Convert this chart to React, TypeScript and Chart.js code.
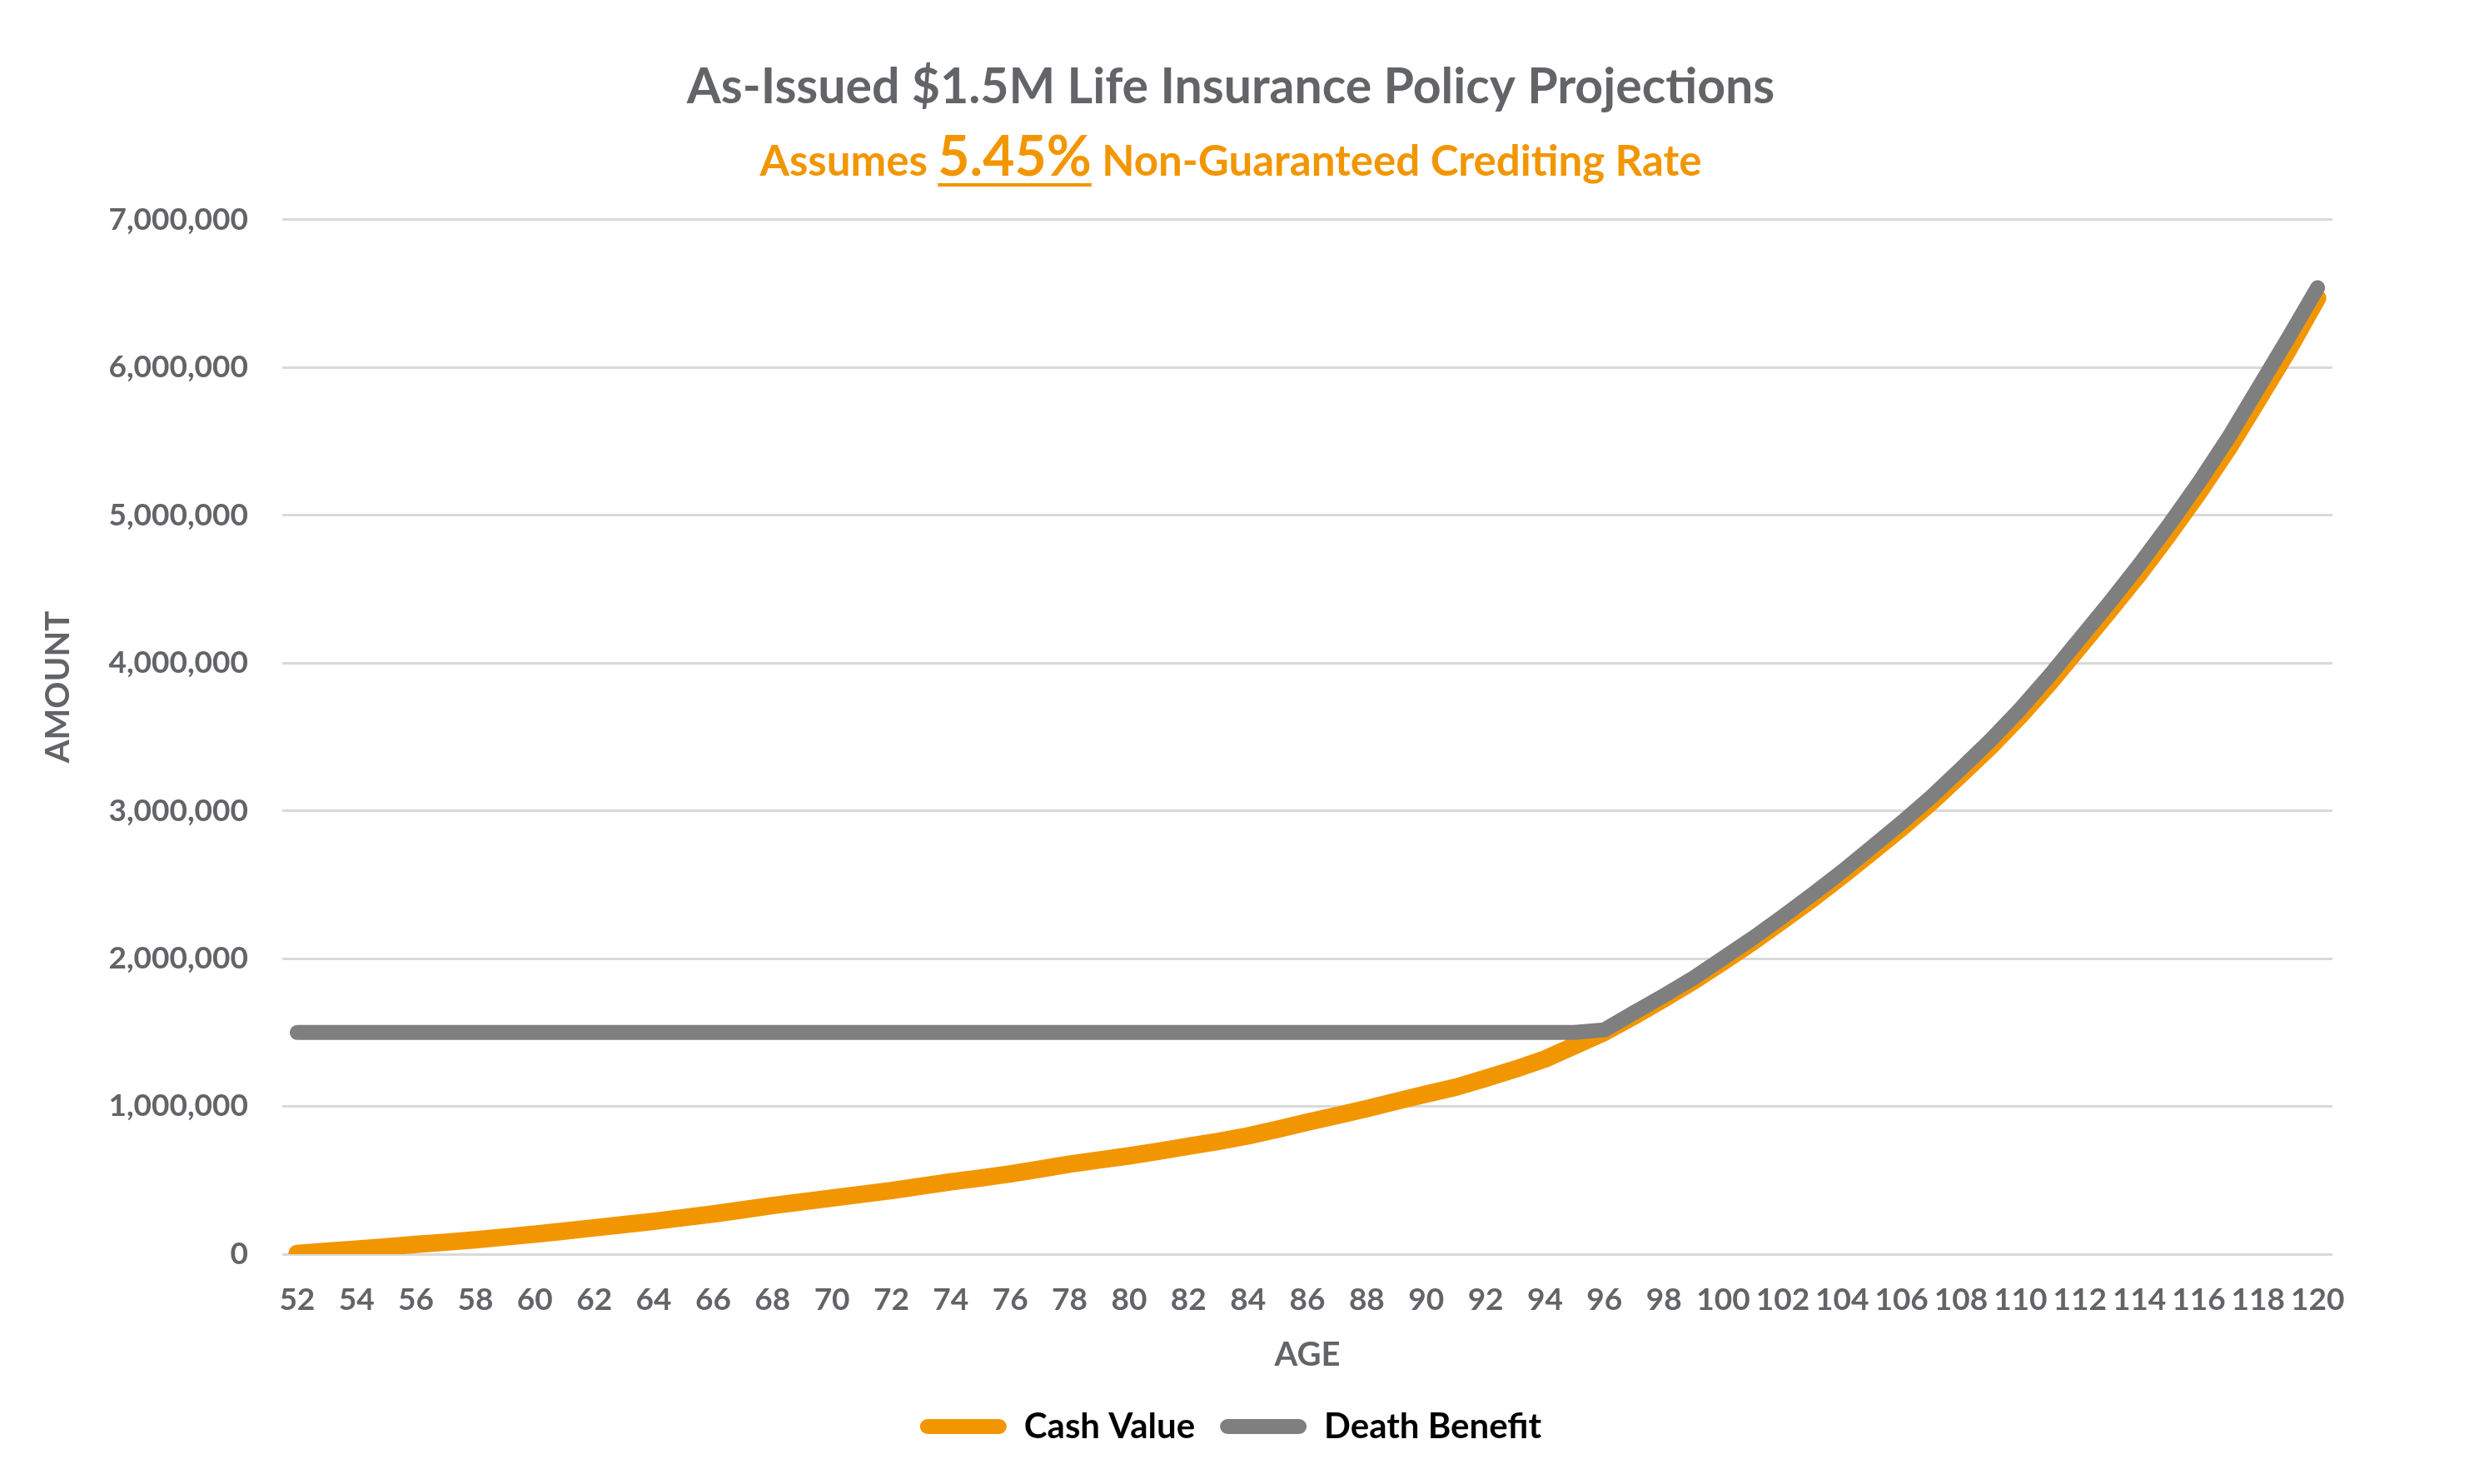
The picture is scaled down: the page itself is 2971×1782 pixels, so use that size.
import { useEffect, useRef } from "react";
import { Chart, registerables } from "chart.js";
import type { ChartConfiguration, Plugin } from "chart.js";

Chart.register(...registerables);

const FONT = "Lato, 'Open Sans', sans-serif";
const TEXT_GRAY = "#636468";
const ORANGE = "#F29600";
const LINE_GRAY = "#7F7F7F";
const GRID = "#D9D9D9";

const TITLE = "As-Issued $1.5M Life Insurance Policy Projections";
const SUBTITLE_LEAD = "Assumes ";
const SUBTITLE_RATE = "5.45%";
const SUBTITLE_TAIL = " Non-Guaranteed Crediting Rate";

const AGES = [
  52, 53, 54, 55, 56, 57, 58, 59, 60, 61, 62, 63, 64, 65, 66, 67, 68, 69, 70, 71, 72, 73, 74,
  75, 76, 77, 78, 79, 80, 81, 82, 83, 84, 85, 86, 87, 88, 89, 90, 91, 92, 93, 94, 95, 96, 97,
  98, 99, 100, 101, 102, 103, 104, 105, 106, 107, 108, 109, 110, 111, 112, 113, 114, 115, 116,
  117, 118, 119, 120,
];

// 52 .. 120
const CASH_VALUE = [
  5000, 20000, 34000, 50000, 66000, 81000, 97000, 116000, 135000,
  156000, 178000, 200000, 222000, 247000, 272000, 300000, 329000, 354000, 380000,
  405000, 430000, 460000, 490000, 515000, 543000, 575000, 609000, 637000, 665000,
  697000, 730000, 763000, 800000, 845000, 893000, 938000, 985000, 1035000, 1083000,
  1130000, 1190000, 1252000, 1321000, 1411000, 1501000, 1612000, 1728000, 1848000, 1980000,
  2115000, 2258000, 2405000, 2560000, 2722000, 2885000, 3058000, 3245000, 3437000, 3645000,
  3870000, 4112000, 4355000, 4605000, 4872000, 5152000, 5452000, 5780000, 6112000, 6470000,
];

const DEATH_BENEFIT = [
  1500000, 1500000, 1500000, 1500000, 1500000, 1500000, 1500000, 1500000, 1500000, 1500000, 1500000,
  1500000, 1500000, 1500000, 1500000, 1500000, 1500000, 1500000, 1500000, 1500000, 1500000, 1500000,
  1500000, 1500000, 1500000, 1500000, 1500000, 1500000, 1500000, 1500000, 1500000, 1500000, 1500000,
  1500000, 1500000, 1500000, 1500000, 1500000, 1500000, 1500000, 1500000, 1500000, 1500000, 1500000,
  1518000, 1635000, 1750000, 1870000, 2005000, 2140000, 2285000, 2435000, 2590000, 2755000,
  2920000, 3095000, 3285000, 3480000, 3690000, 3920000, 4165000, 4410000, 4665000, 4935000,
  5220000, 5525000, 5860000, 6195000, 6540000,
];

const Y_TICKS = [0, 1000000, 2000000, 3000000, 4000000, 5000000, 6000000, 7000000];

const fmt = new Intl.NumberFormat("en-US");

// subtitle with the bigger underlined rate, and the y title (sits higher than the axis centre)
const overlayText: Plugin<"line"> = {
  id: "overlayText",
  afterDraw(chart) {
    const { ctx } = chart;
    ctx.save();
    const parts = [
      { text: SUBTITLE_LEAD, size: 51, underline: false },
      { text: SUBTITLE_RATE, size: 66, underline: true },
      { text: SUBTITLE_TAIL, size: 51, underline: false },
    ];
    const widths = parts.map((p) => {
      ctx.font = `bold ${p.size}px ${FONT}`;
      return ctx.measureText(p.text).width;
    });
    const total = widths.reduce((a, b) => a + b, 0);
    let x = (chart.width - 15) / 2 - total / 2;
    ctx.fillStyle = ORANGE;
    ctx.textAlign = "left";
    ctx.textBaseline = "alphabetic";
    parts.forEach((p, i) => {
      ctx.font = `bold ${p.size}px ${FONT}`;
      ctx.fillText(p.text, x, 211);
      if (p.underline) ctx.fillRect(x, 220, widths[i], 4);
      x += widths[i];
    });

    ctx.translate(70, 825);
    ctx.rotate(-Math.PI / 2);
    ctx.font = `bold 40px ${FONT}`;
    ctx.fillStyle = TEXT_GRAY;
    ctx.textAlign = "center";
    ctx.textBaseline = "middle";
    ctx.fillText("AMOUNT", 0, 0);
    ctx.restore();
  },
};

export default function App() {
  const canvasRef = useRef<HTMLCanvasElement | null>(null);
  const chartRef = useRef<Chart | null>(null);

  useEffect(() => {
    Chart.defaults.font.family = FONT;
    const ctx = canvasRef.current!.getContext("2d")!;

    const config: ChartConfiguration<"line", number[], string> = {
      type: "line",
      data: {
        labels: AGES.map(String),
        datasets: [
          {
            label: "Cash Value",
            data: CASH_VALUE,
            borderColor: ORANGE,
            backgroundColor: ORANGE,
            borderWidth: 21,
            borderCapStyle: "round",
            borderJoinStyle: "round",
            pointRadius: 0,
            tension: 0,
            clip: 0,
            order: 2,
          },
          {
            label: "Death Benefit",
            data: DEATH_BENEFIT,
            borderColor: LINE_GRAY,
            backgroundColor: LINE_GRAY,
            borderWidth: 18,
            borderCapStyle: "round",
            borderJoinStyle: "round",
            pointRadius: 0,
            tension: 0,
            clip: 0,
            order: 1, // drawn over the cash value line
          },
        ],
      },
      options: {
        animation: false,
        responsive: true,
        maintainAspectRatio: false,
        layout: { padding: { top: 0, left: 0, right: 15, bottom: 38 } },
        plugins: {
          title: {
            display: true,
            text: TITLE,
            color: TEXT_GRAY,
            font: { family: FONT, size: 59, weight: "bold" },
            padding: { top: 70, bottom: 123 },
          },
          legend: {
            position: "bottom",
            labels: {
              color: TEXT_GRAY,
              font: { family: FONT, size: 42, weight: "bold" },
              boxWidth: 104,
              boxHeight: 18,
              padding: 30,
              generateLabels: (chart) =>
                chart.data.datasets.map((ds, i) => ({
                  text: ds.label as string,
                  fillStyle: ds.borderColor as string,
                  strokeStyle: ds.borderColor as string,
                  lineWidth: 0,
                  borderRadius: 9,
                  hidden: false,
                  datasetIndex: i,
                })),
            },
          },
          tooltip: { enabled: false },
        },
        scales: {
          x: {
            type: "category",
            offset: true,
            grid: { display: false, drawTicks: false },
            border: { display: false },
            ticks: {
              autoSkip: false,
              maxRotation: 0,
              minRotation: 0,
              padding: 33,
              color: TEXT_GRAY,
              font: { family: FONT, size: 37, weight: "bold" },
              callback: (_v, i) => (AGES[i] % 2 === 0 ? String(AGES[i]) : ""),
            },
            title: {
              display: true,
              text: "AGE",
              color: TEXT_GRAY,
              font: { family: FONT, size: 40, weight: "bold" },
              padding: { top: 0, bottom: 11 },
            },
            afterFit: (s) => {
              s.height = 156;
            },
          },
          y: {
            type: "linear",
            position: "left",
            min: Y_TICKS[0],
            max: Y_TICKS[Y_TICKS.length - 1],
            grid: { color: GRID, lineWidth: 3, drawTicks: false },
            border: { display: false },
            ticks: {
              stepSize: Y_TICKS[1] - Y_TICKS[0],
              padding: 41,
              color: TEXT_GRAY,
              font: { family: FONT, size: 37, weight: "bold" },
              callback: (v) => fmt.format(Number(v)),
            },
            afterFit: (s) => {
              s.width = 339;
            },
          },
          // empty right-hand axis: keeps the plot clear of the right edge
          yPad: {
            type: "linear",
            position: "right",
            grid: { display: false },
            border: { display: false },
            ticks: { display: false },
            afterFit: (s) => {
              s.width = 155;
            },
          },
        },
      },
      plugins: [overlayText],
    };

    chartRef.current = new Chart(ctx, config);
    return () => chartRef.current?.destroy();
  }, []);

  return (
    <div style={{ position: "fixed", left: 0, top: 0, width: "100vw", height: "100vh", background: "#fff" }}>
      <canvas ref={canvasRef} />
    </div>
  );
}
